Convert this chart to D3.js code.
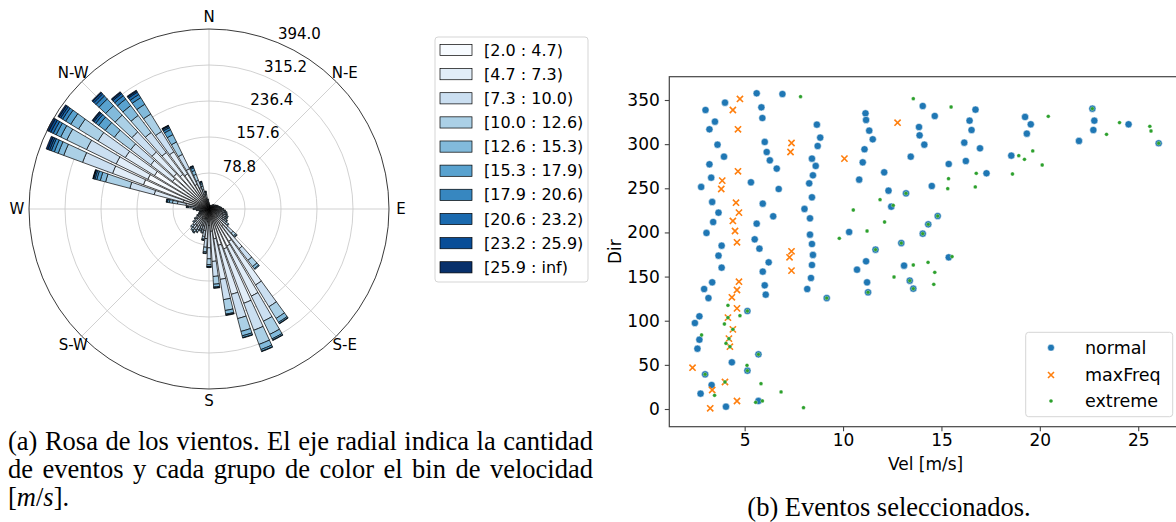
<!DOCTYPE html>
<html>
<head>
<meta charset="utf-8">
<script src="https://cdn.jsdelivr.net/npm/d3@7"></script>
<style>
  body { margin: 0; background: #fff; }
  svg { display: block; }
</style>
</head>
<body>
<svg id="fig" width="1176" height="522"></svg>
<script>
// ---------- wind rose data ----------
const speedBins = ["[2.0 : 4.7)", "[4.7 : 7.3)", "[7.3 : 10.0)", "[10.0 : 12.6)", "[12.6 : 15.3)",
                   "[15.3 : 17.9)", "[17.9 : 20.6)", "[20.6 : 23.2)", "[23.2 : 25.9)", "[25.9 : inf)"];
const binColors = ["#f7fbff", "#e1edf8", "#cbdff1", "#abd0e6", "#82badb",
                   "#59a2cf", "#3787c0", "#1b6aaf", "#084d97", "#08306b"];
const compassLabels = ["N", "N-E", "E", "S-E", "S", "S-W", "W", "N-W"];
const radialTicks = [78.8, 157.6, 236.4, 315.2, 394.0];
const sectorCount = 64;
// event counts per direction sector (rows, clockwise from N) and speed bin (columns)
const roseCounts = [
  [6,5,2,1,0,0,0,0,0,0], [4,3,2,1,0,0,0,0,0,0], [3,3,1,1,0,0,0,0,0,0], [3,3,1,1,0,0,0,0,0,0],
  [3,3,1,1,0,0,0,0,0,0], [4,3,2,1,0,0,0,0,0,0], [4,3,2,1,0,0,0,0,0,0], [5,4,2,1,0,0,0,0,0,0],
  [6,5,2,1,0,0,0,0,0,0], [6,5,2,1,0,0,0,0,0,0], [6,5,3,1,1,0,0,0,0,0], [7,6,3,1,1,0,0,0,0,0],
  [8,7,3,1,1,0,0,0,0,0], [9,7,3,2,1,0,0,0,0,0], [10,8,4,2,1,0,0,0,0,0], [11,9,4,3,1,0,0,0,0,0],
  [13,11,5,2,1,0,0,0,0,0], [14,12,6,3,1,0,0,0,0,0], [16,13,6,3,2,0,0,0,0,0], [17,14,6,3,2,0,0,0,0,0],
  [18,15,7,3,2,0,0,0,0,0], [18,15,7,3,2,0,0,0,0,0], [19,16,7,4,2,0,0,0,0,0], [17,21,10,5,2,0,0,0,0,0],
  [24,32,16,8,3,1,0,0,0,0], [46,63,32,17,6,2,0,0,0,0], [83,112,56,30,10,3,1,0,0,0], [90,122,61,32,11,3,1,0,0,0],
  [93,127,63,33,12,4,1,0,0,0], [82,111,55,29,10,4,1,0,0,0], [66,90,45,24,8,2,1,0,0,0], [49,66,33,17,6,2,1,0,0,0],
  [36,49,24,13,4,1,1,0,0,0], [28,37,19,10,3,1,0,0,0,0], [22,26,13,6,2,1,0,0,0,0], [20,19,9,5,2,0,0,0,0,0],
  [21,17,8,4,2,0,0,0,0,0], [23,19,9,5,2,0,0,0,0,0], [25,20,9,5,2,1,0,0,0,0], [24,20,9,5,2,0,0,0,0,0],
  [22,18,8,5,2,0,0,0,0,0], [18,15,7,3,2,0,0,0,0,0], [15,13,6,3,1,0,0,0,0,0], [12,10,5,2,1,0,0,0,0,0],
  [10,8,4,2,1,0,0,0,0,0], [9,7,3,2,1,0,0,0,0,0], [9,7,3,2,1,0,0,0,0,0], [11,9,4,3,1,0,0,0,0,0],
  [12,11,6,3,2,1,0,0,0,0], [15,15,10,5,3,1,1,0,0,0], [24,27,19,11,7,4,2,1,0,0], [58,66,55,55,12,8,4,3,1,1],
  [153,72,70,44,13,9,7,4,4,4], [149,77,72,48,15,11,7,6,5,4], [140,75,70,50,20,13,8,5,4,3], [100,60,55,45,25,18,8,5,3,2],
  [105,65,60,50,28,20,9,6,4,2], [95,60,55,47,27,18,9,6,3,2], [90,57,52,45,25,17,8,6,3,2], [60,38,35,30,18,12,5,3,2,1],
  [30,20,17,14,9,6,3,1,1,0], [20,13,11,8,5,3,2,1,0,0], [12,12,8,4,2,1,1,0,0,0], [8,7,4,2,1,0,0,0,0,0]
];

// ---------- scatter data: [speed m/s, direction deg] ----------
const normalEvents = [
  [3.01,338.7],[4.0,347],[3.49,325.5],[3.21,316.8],[3.62,299.4],[3.95,285.8],[3.21,277.2],[3.30,262],
  [2.79,251.5],[3.35,234.5],[3.67,222.4],[3.40,211.8],[3.06,199.4],[3.83,185],[3.67,173.7],[3.83,160.1],
  [3.35,143.5],[2.94,135.9],[3.16,125.7],[2.70,105],[2.47,97.4],[2.70,78.5],[2.60,68.3],[4.35,52.9],
  [2.99,39.3],[3.32,27.2],[2.76,17.4],[4.05,2.6],[5.14,111],[5.14,43.4],[5.70,61.9],[5.70,9.1],
  [5.61,357.6],[6.92,356.8],[5.85,341.7],[5.90,329.6],[6.02,302.5],[6.12,291.1],[6.28,281.7],[6.63,272.3],
  [5.32,256.8],[6.73,249.2],[5.92,232.6],[6.45,218.3],[5.61,209.9],[5.51,192.2],[5.75,181.6],[6.22,166.1],
  [5.92,155.6],[6.02,140.1],[6.07,129.5],[8.67,322.1],[8.84,307.4],[8.71,297.9],[8.42,283.6],[8.61,275.3],
  [8.47,264.7],[8.28,255.6],[8.42,239.8],[8.04,226.6],[8.32,216],[8.32,197.5],[8.42,186.9],[8.47,174.5],
  [8.42,163.1],[8.37,148.4],[8.18,135.9],[9.17,125.7],[11.14,334.9],[11.17,327.4],[11.33,315.3],[11.51,305.5],
  [11.09,294.2],[11.0,279.4],[10.82,259.8],[12.09,268.1],[12.31,247.3],[12.45,229.2],[10.31,200.5],[11.65,180.5],
  [11.17,167.3],[10.71,157.8],[11.22,143.5],[11.27,132.2],[14.05,343.2],[14.66,331.9],[13.86,319.4],[13.89,310],
  [14.13,299.4],[13.44,285.8],[13.2,244.3],[14.51,252.6],[14.81,218.6],[14.33,209.2],[14.05,198.6],[12.96,188],
  [13.10,162.4],[13.39,145.4],[13.57,136.3],[15.37,171.8],[15.37,277.5],[16.16,301.7],[16.24,280.9],[16.43,326.6],
  [16.53,316],[16.73,339.1],[16.96,295.3],[17.29,267],[18.55,287],[19.25,330.8],[19.54,322.5],[19.34,311.9],
  [21.99,303.6],[22.67,340.2],[22.77,326.6],[22.72,316],[24.51,322.5],[26.04,301]
];
const maxFreqEvents = [
  [4.76,351.2],[4.40,338.7],[4.66,316.8],[7.38,301.3],[7.33,291.1],[10.07,283.6],[4.66,269.2],[3.86,258.7],
  [3.81,249.2],[4.56,233.7],[4.71,222.4],[4.40,213],[4.51,201.6],[4.61,188.8],[7.38,178.6],[7.28,171.8],
  [7.38,156.7],[4.71,144.2],[4.61,134.8],[4.35,126.5],[4.61,114],[4.15,103.5],[4.40,90.2],[4.20,79.7],
  [4.25,70.6],[2.35,46.8],[4.0,30.6],[3.35,21.5],[4.61,9.1],[3.25,0.8],[12.77,324.3]
];
const extremeEvents = [
  [7.84,353.8],[4.15,117.4],[4.76,105.7],[4.15,103.5],[4.40,90.2],[4.20,79.7],[4.25,70.6],[4.0,30.6],
  [2.81,83.8],[3.97,96.3],[4.05,74.4],[5.12,49.5],[5.14,43.4],[2.99,39.3],[5.83,28.7],[3.47,15.5],
  [6.85,19.3],[5.56,7.6],[5.90,9.1],[7.99,1.5],[5.70,61.9],[5.14,111],[9.17,125.7],[9.81,193.3],
  [10.52,225.4],[11.22,201.6],[11.88,237.1],[12.11,211.8],[12.55,230.7],[12.59,149.5],[11.65,180.5],[11.27,132.2],
  [13.57,351.5],[15.49,342.1],[15.36,260.9],[15.32,249.6],[16.77,267],[16.72,251.5],[15.54,172.6],[13.57,163.1],
  [14.32,166.1],[14.66,154.8],[14.61,141.2],[18.61,266.2],[18.93,287],[19.22,282.8],[19.64,292.3],[20.12,276.4],
  [20.43,331.5],[23.39,311.1],[24.05,324.4],[25.59,320.2],[25.65,314.9],[13.2,244.3],[14.81,218.6],[14.33,209.2],
  [14.05,198.6],[12.96,188],[13.39,145.4],[13.57,136.3],[22.67,340.2],[26.04,301]
];
const xTicks = [5, 10, 15, 20, 25];
const yTicks = [0, 50, 100, 150, 200, 250, 300, 350];
const seriesNames = ["normal", "maxFreq", "extreme"];
const seriesColors = ["#1f77b4", "#ff7f0e", "#2ca02c"];

const captionA = [
  "(a) Rosa de los vientos. El eje radial indica la cantidad",
  "de eventos y cada grupo de color el bin de velocidad"
];
const captionB = "(b) Eventos seleccionados.";

// ---------- drawing ----------
const svg = d3.select("#fig");
const sans = "'DejaVu Sans', sans-serif";
const serif = "'Liberation Serif', 'Times New Roman', serif";

// ---- wind rose ----
const cx = 209, cy = 209, R = 180;
const rose = svg.append("g").attr("transform", `translate(${cx},${cy})`);
const totals = roseCounts.map(row => d3.sum(row));
const r = d3.scaleLinear().domain([0, d3.max(totals)]).range([0, R]);
const sectorAngle = 2 * Math.PI / sectorCount;
const opening = sectorAngle * 0.8;

// grid circles and spokes
rose.selectAll("circle.grid").data(radialTicks.slice(0, -1)).join("circle")
  .attr("class", "grid").attr("r", d => r(d))
  .attr("fill", "none").attr("stroke", "#cccccc").attr("stroke-width", 0.9);
rose.selectAll("line.spoke").data(compassLabels).join("line")
  .attr("class", "spoke")
  .attr("x1", 0).attr("y1", 0)
  .attr("x2", (d, i) => R * Math.sin(i * Math.PI / 4))
  .attr("y2", (d, i) => -R * Math.cos(i * Math.PI / 4))
  .attr("stroke", "#cccccc").attr("stroke-width", 0.9);

// stacked sector bars
const arc = d3.arc();
const segments = [];
roseCounts.forEach((row, k) => {
  let base = 0;
  const theta = k * sectorAngle;
  row.forEach((v, b) => {
    if (v > 0) segments.push({ k, b, inner: base, outer: base + v, theta });
    base += v;
  });
});
rose.selectAll("path.seg").data(segments).join("path")
  .attr("class", "seg")
  .attr("d", d => arc({
    innerRadius: r(d.inner), outerRadius: r(d.outer),
    startAngle: d.theta - opening / 2, endAngle: d.theta + opening / 2
  }))
  .attr("fill", d => binColors[d.b])
  .attr("stroke", "#000").attr("stroke-width", 0.7).attr("stroke-linejoin", "miter");

// outer frame
rose.append("circle").attr("r", R).attr("fill", "none")
  .attr("stroke", "#222").attr("stroke-width", 0.9);

// radial tick labels along 22.5 deg
const labAng = 22.5 * Math.PI / 180;
rose.selectAll("text.rlab").data(radialTicks).join("text")
  .attr("class", "rlab")
  .attr("x", d => r(d) * Math.sin(labAng))
  .attr("y", d => -r(d) * Math.cos(labAng) - 4)
  .attr("font-family", sans).attr("font-size", 15).attr("fill", "#000")
  .text(d => d.toFixed(1));

// compass labels
rose.selectAll("text.clab").data(compassLabels).join("text")
  .attr("class", "clab")
  .attr("x", (d, i) => 192 * Math.sin(i * Math.PI / 4))
  .attr("y", (d, i) => -192 * Math.cos(i * Math.PI / 4))
  .attr("text-anchor", "middle").attr("dominant-baseline", "central")
  .attr("font-family", sans).attr("font-size", 15).attr("fill", "#000")
  .text(d => d);

// speed-bin legend
const leg = svg.append("g");
leg.append("rect").attr("x", 435).attr("y", 37).attr("width", 153).attr("height", 245)
  .attr("rx", 3).attr("fill", "#fff").attr("stroke", "#d5d5d5").attr("stroke-width", 1);
const legY = d3.scaleLinear().domain([0, 9]).range([50, 267.3]);
leg.selectAll("rect.sw").data(speedBins).join("rect")
  .attr("class", "sw")
  .attr("x", 440).attr("y", (d, i) => legY(i) - 5.6).attr("width", 32).attr("height", 11.2)
  .attr("fill", (d, i) => binColors[i]).attr("stroke", "#000").attr("stroke-width", 0.7);
leg.selectAll("text.lt").data(speedBins).join("text")
  .attr("class", "lt")
  .attr("x", 484).attr("y", (d, i) => legY(i))
  .attr("dominant-baseline", "central")
  .attr("font-family", sans).attr("font-size", 16).attr("fill", "#000")
  .text(d => d);

// ---- scatter of selected events ----
const plotLeft = 669.3, plotRight = 1181.9, plotTop = 76.7, plotBottom = 426.7;
const x = d3.scaleLinear().domain([1.17, 27.22]).range([plotLeft, plotRight]);
const y = d3.scaleLinear().domain([-20.05, 376.4]).range([plotBottom, plotTop]);
const sc = svg.append("g");

const xAxis = sc.append("g").attr("transform", `translate(0,${plotBottom})`)
  .call(d3.axisBottom(x).tickValues(xTicks).tickSize(4.5).tickPadding(3).tickFormat(d3.format("d")));
const yAxis = sc.append("g").attr("transform", `translate(${plotLeft},0)`)
  .call(d3.axisLeft(y).tickValues(yTicks).tickSize(4.5).tickPadding(5).tickFormat(d3.format("d")));
[xAxis, yAxis].forEach(g => {
  g.select(".domain").remove();
  g.selectAll(".tick line").attr("stroke", "#444").attr("stroke-width", 1.1);
  g.selectAll(".tick text").attr("font-family", sans).attr("font-size", 17).attr("fill", "#000");
});
// frame
sc.append("rect").attr("x", plotLeft).attr("y", plotTop)
  .attr("width", plotRight - plotLeft).attr("height", plotBottom - plotTop)
  .attr("fill", "none").attr("stroke", "#444").attr("stroke-width", 1.2);

sc.append("text").attr("x", (plotLeft + plotRight) / 2).attr("y", 470)
  .attr("text-anchor", "middle").attr("font-family", sans).attr("font-size", 17).attr("fill", "#000")
  .text("Vel [m/s]");
sc.append("text").attr("transform", `translate(620.5,${(plotTop + plotBottom) / 2}) rotate(-90)`)
  .attr("text-anchor", "middle").attr("font-family", sans).attr("font-size", 17).attr("fill", "#000")
  .text("Dir");

const crossPath = s => `M${-s},${-s}L${s},${s}M${-s},${s}L${s},${-s}`;

sc.append("g").selectAll("circle").data(normalEvents).join("circle")
  .attr("cx", d => x(d[0])).attr("cy", d => y(d[1])).attr("r", 3.6)
  .attr("fill", seriesColors[0]).attr("stroke", "#fff").attr("stroke-width", 0.5);
sc.append("g").selectAll("path").data(maxFreqEvents).join("path")
  .attr("transform", d => `translate(${x(d[0])},${y(d[1])})`)
  .attr("d", crossPath(3.1))
  .attr("stroke", seriesColors[1]).attr("stroke-width", 1.6).attr("fill", "none");
sc.append("g").selectAll("circle").data(extremeEvents).join("circle")
  .attr("cx", d => x(d[0])).attr("cy", d => y(d[1])).attr("r", 1.9)
  .attr("fill", seriesColors[2]).attr("stroke", "#fff").attr("stroke-width", 0.3);

// series legend
const sl = sc.append("g");
sl.append("rect").attr("x", 1025.7).attr("y", 332.3).attr("width", 147).attr("height", 84.4)
  .attr("rx", 3).attr("fill", "#fff").attr("fill-opacity", 0.8)
  .attr("stroke", "#d5d5d5").attr("stroke-width", 1);
const slY = [347.7, 375, 401];
sl.append("circle").attr("cx", 1051).attr("cy", slY[0]).attr("r", 3.4)
  .attr("fill", seriesColors[0]).attr("stroke", "#fff").attr("stroke-width", 0.5);
sl.append("path").attr("transform", `translate(1051,${slY[1]})`).attr("d", crossPath(3.0))
  .attr("stroke", seriesColors[1]).attr("stroke-width", 1.6).attr("fill", "none");
sl.append("circle").attr("cx", 1051).attr("cy", slY[2]).attr("r", 1.8)
  .attr("fill", seriesColors[2]);
sl.selectAll("text").data(seriesNames).join("text")
  .attr("x", 1085).attr("y", (d, i) => slY[i])
  .attr("dominant-baseline", "central")
  .attr("font-family", sans).attr("font-size", 17.5).attr("fill", "#000")
  .text(d => d);

// ---- captions ----
function justifyLine(text, x0, x1, yBase, size) {
  const words = text.split(" ");
  const g = svg.append("g");
  const nodes = words.map(w => g.append("text").attr("y", yBase)
    .attr("font-family", serif).attr("font-size", size).attr("fill", "#000").text(w));
  const widths = nodes.map(n => n.node().getComputedTextLength());
  const gap = (x1 - x0 - d3.sum(widths)) / (words.length - 1);
  let cur = x0;
  nodes.forEach((n, i) => { n.attr("x", cur); cur += widths[i] + gap; });
}
const capSize = 26.5;
justifyLine(captionA[0], 8, 593, 450, capSize);
justifyLine(captionA[1], 8, 593, 478, capSize);
const ms = svg.append("text").attr("x", 8).attr("y", 506)
  .attr("font-family", serif).attr("font-size", capSize).attr("fill", "#000");
ms.append("tspan").text("[");
ms.append("tspan").attr("font-style", "italic").text("m");
ms.append("tspan").text("/");
ms.append("tspan").attr("font-style", "italic").text("s");
ms.append("tspan").text("].");
svg.append("text").attr("x", 889).attr("y", 516).attr("text-anchor", "middle")
  .attr("font-family", serif).attr("font-size", capSize).attr("fill", "#000")
  .text(captionB);
</script>
</body>
</html>
